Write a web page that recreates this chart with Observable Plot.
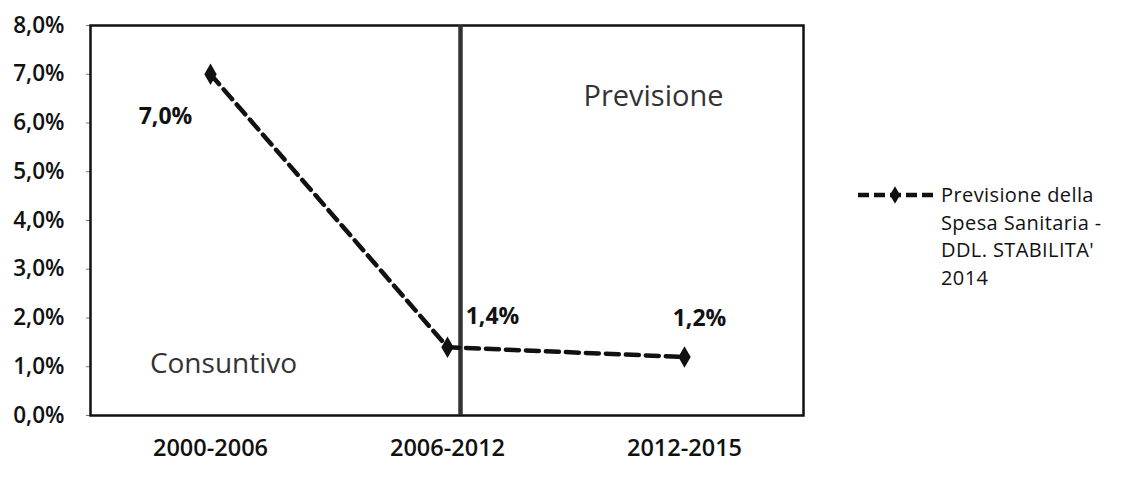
<!DOCTYPE html>
<html>
<head>
<meta charset="utf-8">
<script src="https://cdn.jsdelivr.net/npm/d3@7"></script>
<script src="https://cdn.jsdelivr.net/npm/@observablehq/plot@0.6"></script>
<style>
  html, body { margin: 0; padding: 0; background: #fff; }
  #wrap { position: relative; width: 1122px; height: 492px; font-family: "Open Sans", sans-serif; }
  #legend { position: absolute; left: 856px; top: 181px; display: flex; align-items: flex-start; }
  #legend .txt { font-size: 20px; line-height: 27.5px; color: #111; margin-left: 1px; white-space: nowrap; letter-spacing: 0.4px; }
</style>
</head>
<body>
<div id="wrap">
  <div id="chart"></div>
  <div id="legend"></div>
</div>
<script>
const categories = ["2000-2006", "2006-2012", "2012-2015"];
const values = [7.0, 1.4, 1.2];
const valueLabels = ["7,0%", "1,4%", "1,2%"];
const yTicks = [0, 1, 2, 3, 4, 5, 6, 7, 8];
const phaseLabels = ["Consuntivo", "Previsione"];
const seriesName = ["Previsione della", "Spesa Sanitaria -", "DDL. STABILITA'", "2014"];
const divider = ["2006-2012"];

const data = categories.map((c, i) => ({cat: c, v: values[i], label: valueLabels[i]}));
const fmt = d => d.toFixed(1).replace(".", ",") + "%";

const ff = "Open Sans, sans-serif";
const plot = Plot.plot({
  width: 830,
  height: 492,
  marginLeft: 90,
  marginRight: 27,
  marginTop: 25,
  marginBottom: 77,
  style: {fontFamily: ff, background: "#fff", color: "#111"},
  x: {type: "point", domain: categories, padding: 0.5, label: null},
  y: {domain: [0, 8], label: null},
  marks: [
    Plot.axisY({ticks: yTicks, tickFormat: fmt, tickSize: 4, tickPadding: 22, fontSize: 22.5, fontWeight: 600, stroke: "#777"}),
    Plot.axisX({tickSize: 0, tickPadding: 24, fontSize: 23.5, fontWeight: 600}),
    Plot.frame({stroke: "#111", strokeWidth: 2.5}),
    Plot.ruleX(divider, {stroke: "#333", strokeWidth: 4.5, dx: 13}),
    Plot.line(data, {x: "cat", y: "v", stroke: "#111", strokeWidth: 4.5, strokeDasharray: "13,7"}),
    Plot.dot(data, {x: "cat", y: "v", symbol: "diamond", r: 6.5, fill: "#111"}),
    Plot.text(data.slice(0, 1), {x: "cat", y: "v", text: "label", dx: -45, dy: 42, fontSize: 23, fontWeight: 700, fill: "#111"}),
    Plot.text(data.slice(1, 2), {x: "cat", y: "v", text: "label", dx: 45, dy: -31, fontSize: 23, fontWeight: 700, fill: "#111"}),
    Plot.text(data.slice(2, 3), {x: "cat", y: "v", text: "label", dx: 15, dy: -38, fontSize: 23, fontWeight: 700, fill: "#111"}),
    Plot.text([phaseLabels[0]], {x: [categories[0]], text: d => d, frameAnchor: "bottom", dy: -43, dx: 13, fontSize: 28, fill: "#333"}),
    Plot.text([phaseLabels[1]], {x: [categories[2]], text: d => d, frameAnchor: "top", dy: 60, dx: -31, fontSize: 29, fill: "#333"})
  ]
});
document.getElementById("chart").appendChild(plot);

// legend
const leg = document.getElementById("legend");
const sw = d3.create("svg").attr("width", 84).attr("height", 28);
sw.append("line").attr("x1", 2).attr("x2", 82).attr("y1", 14).attr("y2", 14)
  .attr("stroke", "#111").attr("stroke-width", 4.5).attr("stroke-dasharray", "11,5");
sw.append("path").attr("d", d3.symbol(d3.symbolDiamond, 90)()).attr("transform", "translate(39,14)").attr("fill", "#111");
leg.appendChild(sw.node());
const txt = document.createElement("div");
txt.className = "txt";
txt.innerHTML = seriesName.map(s => s.replace(/</g, "&lt;")).join("<br>");
leg.appendChild(txt);
</script>
</body>
</html>
